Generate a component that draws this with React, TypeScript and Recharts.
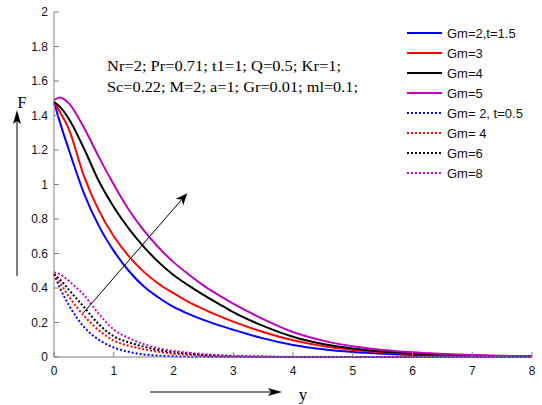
import { Legend, Line, LineChart, ReferenceLine, XAxis, YAxis } from "recharts";

// y positions along the axis
const yPos = [0, 0.1, 0.25, 0.5, 0.75, 1, 1.25, 1.5, 1.75, 2, 2.25, 2.5, 2.75, 3, 3.5, 4, 4.5, 5, 5.5, 6, 6.5, 7, 7.5, 8];

// t = 1.5 (solid)
const gm2t15 = [1.48, 1.36, 1.2, 0.95, 0.76, 0.615, 0.5, 0.41, 0.345, 0.29, 0.25, 0.215, 0.185, 0.158, 0.108, 0.07, 0.045, 0.029, 0.019, 0.012, 0.008, 0.005, 0.003, 0.002];
const gm3 = [1.48, 1.42, 1.32, 1.05, 0.85, 0.7, 0.585, 0.495, 0.425, 0.37, 0.32, 0.278, 0.24, 0.205, 0.145, 0.097, 0.063, 0.041, 0.027, 0.018, 0.012, 0.007, 0.004, 0.003];
const gm4 = [1.48, 1.45, 1.38, 1.21, 1.02, 0.87, 0.745, 0.64, 0.55, 0.475, 0.415, 0.36, 0.31, 0.26, 0.18, 0.117, 0.075, 0.049, 0.032, 0.021, 0.014, 0.009, 0.005, 0.003];
const gm5 = [1.49, 1.505, 1.47, 1.33, 1.16, 1.0, 0.855, 0.735, 0.635, 0.55, 0.48, 0.415, 0.36, 0.31, 0.22, 0.145, 0.095, 0.062, 0.041, 0.027, 0.018, 0.011, 0.007, 0.004];

// t = 0.5 (dotted)
const gm2t05 = [0.48, 0.4, 0.3, 0.175, 0.1, 0.055, 0.03, 0.015, 0.008, 0.004, 0.002, 0.001, 0, 0, 0, 0, 0, 0, 0, 0, 0, 0, 0, 0];
const gm4t05 = [0.48, 0.43, 0.35, 0.24, 0.155, 0.095, 0.065, 0.045, 0.03, 0.02, 0.013, 0.008, 0.005, 0.003, 0.001, 0, 0, 0, 0, 0, 0, 0, 0, 0];
const gm6t05 = [0.48, 0.45, 0.39, 0.29, 0.19, 0.12, 0.085, 0.06, 0.04, 0.028, 0.02, 0.012, 0.008, 0.005, 0.002, 0, 0, 0, 0, 0, 0, 0, 0, 0];
const gm8t05 = [0.49, 0.48, 0.44, 0.36, 0.25, 0.16, 0.11, 0.075, 0.05, 0.035, 0.025, 0.017, 0.011, 0.007, 0.003, 0.001, 0, 0, 0, 0, 0, 0, 0, 0];

const xTicks = [0, 1, 2, 3, 4, 5, 6, 7, 8];
const yTicks = [0, 0.2, 0.4, 0.6, 0.8, 1, 1.2, 1.4, 1.6, 1.8, 2];

const data = yPos.map((y, i) => ({
  y,
  a: gm2t15[i],
  b: gm3[i],
  c: gm4[i],
  d: gm5[i],
  e: gm2t05[i],
  f: gm4t05[i],
  g: gm6t05[i],
  h: gm8t05[i],
}));

const series = [
  { key: "a", name: "Gm=2,t=1.5", color: "#0000ff", dash: undefined },
  { key: "b", name: "Gm=3", color: "#ff0000", dash: undefined },
  { key: "c", name: "Gm=4", color: "#000000", dash: undefined },
  { key: "d", name: "Gm=5", color: "#bf00bf", dash: undefined },
  { key: "e", name: "Gm= 2, t=0.5", color: "#0000ff", dash: "2 2" },
  { key: "f", name: "Gm= 4", color: "#ff0000", dash: "2 2" },
  { key: "g", name: "Gm=6", color: "#000000", dash: "2 2" },
  { key: "h", name: "Gm=8", color: "#cc00cc", dash: "2 2" },
];

const sans = "'Liberation Sans', Arial, sans-serif";
const serif = "'Liberation Serif', 'Times New Roman', serif";

const XTick = (props: any) => {
  const { x, y, payload } = props;
  return (
    <g>
      <line x1={x} y1={y} x2={x} y2={y - 5} stroke="#808080" />
      <text x={x} y={y + 18} textAnchor="middle" fontSize={12} fontFamily={sans} fill="#111">
        {payload.value}
      </text>
    </g>
  );
};

const YTick = (props: any) => {
  const { x, y, payload } = props;
  return (
    <g>
      <line x1={x} y1={y} x2={x + 5} y2={y} stroke="#808080" />
      <text x={x - 6} y={y + 4} textAnchor="end" fontSize={12} fontFamily={sans} fill="#111">
        {payload.value}
      </text>
    </g>
  );
};

const Arrow = (props: any) => {
  const { x1, y1, x2, y2 } = props;
  const ang = Math.atan2(y2 - y1, x2 - x1);
  const L = 12, W = 5;
  const bx = x2 - L * Math.cos(ang), by = y2 - L * Math.sin(ang);
  const mx = x2 - L * 0.7 * Math.cos(ang), my = y2 - L * 0.7 * Math.sin(ang);
  const px = -Math.sin(ang) * W, py = Math.cos(ang) * W;
  return (
    <g>
      <line x1={x1} y1={y1} x2={mx} y2={my} stroke="#000" strokeWidth={1} />
      <polygon points={`${x2},${y2} ${bx + px},${by + py} ${mx},${my} ${bx - px},${by - py}`} fill="#000" />
    </g>
  );
};

const LegendBox = () => (
  <svg width={140} height={170}>
    {series.map((s, i) => {
      const cy = 10 + i * 20;
      return (
        <g key={s.key}>
          <line x1={0} x2={35} y1={cy} y2={cy} stroke={s.color} strokeWidth={2} strokeDasharray={s.dash} />
          <text x={40} y={cy + 4.5} fontSize={13} fontFamily={sans} fill="#111">
            {s.name}
          </text>
        </g>
      );
    })}
  </svg>
);

export default function App() {
  return (
    <div style={{ position: "absolute", left: 0, top: 0, width: 542, height: 405, background: "#fff" }}>
      <LineChart width={542} height={405} data={data} margin={{ top: 12, right: 10, bottom: 0, left: 0 }}>
        <XAxis
          dataKey="y"
          type="number"
          domain={[0, 8]}
          ticks={xTicks}
          interval={0}
          height={48}
          tickSize={0}
          tickMargin={0}
          tickLine={false}
          axisLine={{ stroke: "#808080" }}
          tick={<XTick />}
        />
        <YAxis
          type="number"
          domain={[0, 2]}
          ticks={yTicks}
          interval={0}
          width={54}
          tickSize={0}
          tickMargin={0}
          tickLine={false}
          axisLine={{ stroke: "#808080" }}
          tick={<YTick />}
        />
        {series.map((s) => (
          <Line
            key={s.key}
            dataKey={s.key}
            name={s.name}
            type="monotone"
            stroke={s.color}
            strokeWidth={2}
            strokeDasharray={s.dash}
            dot={false}
            isAnimationActive={false}
          />
        ))}
        <ReferenceLine
          segment={[
            { x: 0.49, y: 0.255 },
            { x: 2.23, y: 0.95 },
          ]}
          shape={(p: any) => <Arrow {...p} />}
        />
        <Legend
          layout="vertical"
          align="center"
          verticalAlign="middle"
          content={() => <LegendBox />}
          wrapperStyle={{ left: 407, top: 23, width: 140, height: 170 }}
        />
      </LineChart>
      <svg width={542} height={405} style={{ position: "absolute", left: 0, top: 0, pointerEvents: "none" }}>
        <text x={107} y={71} fontSize={15} fontFamily={serif} textLength={234} lengthAdjust="spacingAndGlyphs">
          Nr=2; Pr=0.71; t1=1; Q=0.5; Kr=1;
        </text>
        <text x={107} y={92} fontSize={15} fontFamily={serif} textLength={251} lengthAdjust="spacingAndGlyphs">
          Sc=0.22; M=2; a=1; Gr=0.01; ml=0.1;
        </text>
        <text x={22} y={108} fontSize={16} fontFamily={serif} textAnchor="middle">
          F
        </text>
        <line x1={17} y1={276} x2={17} y2={120} stroke="#000" strokeWidth={1} />
        <polygon points="17,110 13,124 17,121 21,124" fill="#000" />
        <text x={303} y={400} fontSize={17} fontFamily={serif} textAnchor="middle">
          y
        </text>
        <line x1={150} y1={392} x2={272} y2={392} stroke="#000" strokeWidth={1} />
        <polygon points="282,392 268,388 271,392 268,396" fill="#000" />
      </svg>
    </div>
  );
}
